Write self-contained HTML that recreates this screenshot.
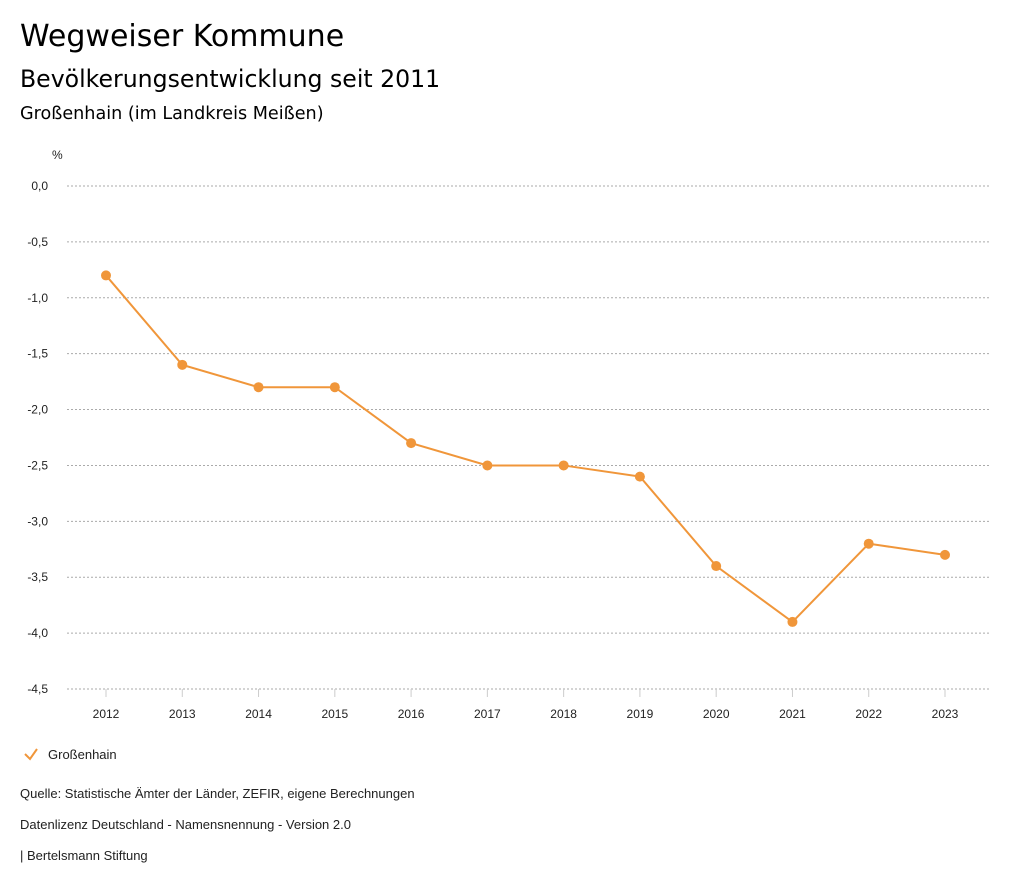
<!DOCTYPE html>
<html><head><meta charset="utf-8"><style>
body{margin:0;background:#fff;width:1024px;height:888px;overflow:hidden;font-family:"Liberation Sans","DejaVu Sans",sans-serif;color:#000}
.t{position:absolute;left:20px;white-space:nowrap}
.d{font-family:"DejaVu Sans",sans-serif}
</style></head><body>
<div class="t d" style="top:19px;font-size:30px">Wegweiser Kommune</div>
<div class="t d" style="top:65px;font-size:23.6px">Bevölkerungsentwicklung seit 2011</div>
<div class="t d" style="top:104px;font-size:17.6px">Großenhain (im Landkreis Meißen)</div>
<svg id="c" width="1024" height="888" style="position:absolute;left:0;top:0" font-family="Liberation Sans, DejaVu Sans, sans-serif"></svg>
<div class="t" style="top:786px;font-size:13px;color:#222">Quelle: Statistische Ämter der Länder, ZEFIR, eigene Berechnungen</div>
<div class="t" style="top:817px;font-size:13px;color:#222">Datenlizenz Deutschland - Namensnennung - Version 2.0</div>
<div class="t" style="top:848px;font-size:13px;color:#222">| Bertelsmann Stiftung</div>
<script>
const years=["2012","2013","2014","2015","2016","2017","2018","2019","2020","2021","2022","2023"];
const values=[-0.8,-1.6,-1.8,-1.8,-2.3,-2.5,-2.5,-2.6,-3.4,-3.9,-3.2,-3.3];
const yTicks=[0,-0.5,-1,-1.5,-2,-2.5,-3,-3.5,-4,-4.5];
const NS="http://www.w3.org/2000/svg";
const svg=document.getElementById('c');
const y=v=>186+(0-v)/4.5*503;
const x=i=>106+i*(945-106)/(years.length-1);
function mk(t,a){const e=document.createElementNS(NS,t);for(const k in a)e.setAttribute(k,a[k]);svg.appendChild(e);return e;}
let u=mk('text',{x:52,y:159,'font-size':12,fill:'#222'});u.textContent='%';


yTicks.forEach(v=>{
 const l=mk('line',{x1:67,x2:990,y1:y(v),y2:y(v),stroke:'#aaa','stroke-width':1,'stroke-dasharray':'2,2'});
 
 
 const t=mk('text',{x:48,y:y(v)+4,'font-size':12,'text-anchor':'end',fill:'#222'});
 t.textContent=v.toFixed(1).replace('.',',').replace('-0,0','0,0');
 
 
});
years.forEach((yr,i)=>{
 const l=mk('line',{x1:x(i),x2:x(i),y1:689,y2:697,stroke:'#ccc'});
 
 
 const t=mk('text',{x:x(i),y:718,'font-size':12,'text-anchor':'middle',fill:'#222'});
 t.textContent=yr;
 
 
});
const p=mk('polyline',{points:values.map((v,i)=>x(i)+','+y(v)).join(' '),fill:'none',stroke:'#f0963a','stroke-width':2});


values.forEach((v,i)=>{
 const c=mk('circle',{cx:x(i),cy:y(v),r:5,fill:'#f0963a'});
 
 
});
const g=mk('polyline',{points:'25,754 30,759 37,749',fill:'none',stroke:'#f0963a','stroke-width':2});


const lt=mk('text',{x:48,y:759,'font-size':13,fill:'#222'});lt.textContent='Großenhain';


</script>
</body></html>
